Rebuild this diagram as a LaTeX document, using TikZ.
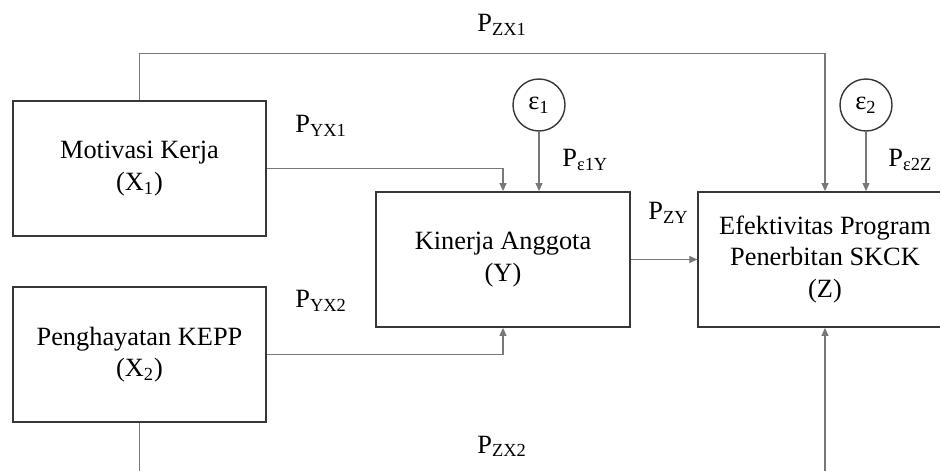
\documentclass[tikz,border=0pt]{standalone}
\usepackage{fontspec}
\setmainfont{Liberation Serif}
\usetikzlibrary{arrows.meta, positioning}

\begin{document}
\begin{tikzpicture}[
    >={Triangle[length=4.6pt, width=4pt]},
    font=\fontsize{15pt}{18pt}\selectfont,
    boxc/.style={RGB}{55,55,55},
    box/.style={draw=boxc, line width=1pt, fill=white, align=center, inner sep=0pt, minimum width=5.07cm, minimum height=2.7cm},
    errc/.style={draw=boxc, line width=0.8pt, circle, inner sep=0pt, minimum size=1.04cm},
    link/.style={draw=linec, line width=0.7pt},
    coef/.style={anchor=base west, inner sep=0pt}
]

\definecolor{boxc}{RGB}{55,55,55}
\definecolor{linec}{RGB}{120,120,120}

\useasboundingbox (0, 0) rectangle (18.8, -9.42);
\clip (0, 0) rectangle (18.8, -9.42);

\node[box] (X1) at (2.79, -3.37) {Motivasi Kerja\\(X\textsubscript{1})};
\node[box] (X2) at (2.79, -7.09) {Penghayatan KEPP\\(X\textsubscript{2})};
\node[box] (Y) at (10.06, -5.19) {Kinerja Anggota\\(Y)};
\node[box] (Z) at (16.5, -5.19) {Efektivitas Program\\Penerbitan SKCK\\(Z)};
\node[errc] (e1) at (10.78, -2.1) {ε\textsubscript{1}};
\node[errc] (e2) at (17.32, -2.1) {ε\textsubscript{2}};

\coordinate (top) at (0, -1.07);
\coordinate (bot) at (0, -10.0);

\draw[link, ->] (X1.north) -- (X1.north |- top) -| (Z.north);
\draw[link, ->] (X1.east) -| (Y.north);
\draw[link, ->] (X2.east) -| (Y.south);
\draw[link, ->] (e1.south) -- (e1.south |- Y.north);
\draw[link, ->] (e2.south) -- (e2.south |- Z.north);
\draw[link, ->] (Y.east) -- (Z.west);
\draw[link] (X2.south) -- (X2.south |- bot);
\draw[link, ->] (Z.south |- bot) -- (Z.south);

\node[coef] (pzx1) at (9.54, -0.64) {P\textsubscript{ZX1}};
\node[coef] (pyx1) at (5.9, -2.66) {P\textsubscript{YX1}};
\node[coef] (pe1y) at (11.24, -3.34) {P\textsubscript{ε1Y}};
\node[coef] (pe2z) at (17.76, -3.34) {P\textsubscript{ε2Z}};
\node[coef] (pzy) at (12.96, -4.4) {P\textsubscript{ZY}};
\node[coef] (pyx2) at (5.9, -6.16) {P\textsubscript{YX2}};
\node[coef] (pzx2) at (9.54, -9.06) {P\textsubscript{ZX2}};

\end{tikzpicture}
\end{document}
